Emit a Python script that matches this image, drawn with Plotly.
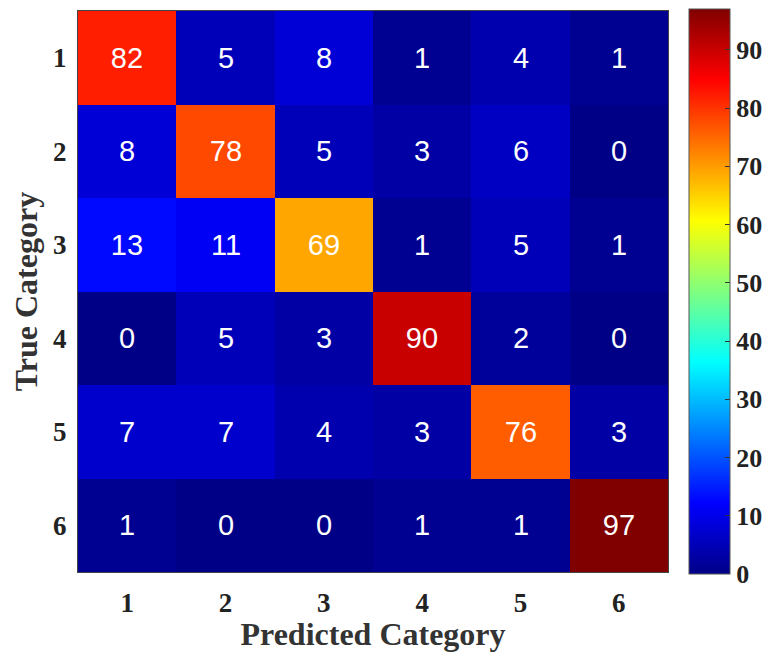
import plotly.graph_objects as go

categories = ["1", "2", "3", "4", "5", "6"]
values = [
    [82, 5, 8, 1, 4, 1],
    [8, 78, 5, 3, 6, 0],
    [13, 11, 69, 1, 5, 1],
    [0, 5, 3, 90, 2, 0],
    [7, 7, 4, 3, 76, 3],
    [1, 0, 0, 1, 1, 97],
]
cbar_ticks = [0, 10, 20, 30, 40, 50, 60, 70, 80, 90]

jet = [
    [0.0, "rgb(0,0,135)"],
    [0.125, "rgb(0,0,255)"],
    [0.375, "rgb(0,255,255)"],
    [0.625, "rgb(255,255,0)"],
    [0.875, "rgb(255,0,0)"],
    [1.0, "rgb(128,0,0)"],
]

serif = "Liberation Serif"
# page body has an 8px margin: figure origin sits at (8, 8) in the window
OFF = 8
W, H = 754, 644
L, R, T, B = 78 - OFF, 668 - OFF, 11 - OFF, 572 - OFF

fig = go.Figure(
    go.Heatmap(
        z=values,
        x=categories,
        y=categories,
        colorscale=jet,
        zmin=0,
        zmax=97,
        text=[[str(v) for v in row] for row in values],
        texttemplate="%{text}",
        textfont=dict(family="Liberation Sans", size=29, color="white"),
        xgap=0,
        ygap=0,
        colorbar=dict(
            x=(689 - OFF - L) / (R - L),
            xanchor="left",
            xpad=0,
            ypad=0,
            y=0.5,
            yanchor="middle",
            len=(576 - 11) / (572 - 11),
            lenmode="fraction",
            thickness=41,
            outlinewidth=1,
            outlinecolor="#555555",
            tickvals=cbar_ticks,
            ticks="inside",
            ticklen=5,
            tickcolor="#333333",
            tickfont=dict(family=serif, size=26, color="#222222", weight="bold"),
        ),
        hoverinfo="skip",
    )
)

fig.update_layout(
    width=W,
    height=H,
    margin=dict(l=L, r=W - R, t=T, b=H - B, autoexpand=False),
    paper_bgcolor="white",
    plot_bgcolor="white",
    font=dict(family=serif, color="#222222"),
    xaxis=dict(
        title=dict(text="<b>Predicted Category</b>", font=dict(family=serif, size=32, color="#333333"), standoff=14),
        tickfont=dict(family=serif, size=27, color="#222222", weight="bold"),
        showline=True, linecolor="#444444", linewidth=1, mirror=True,
        ticks="", ticklabelstandoff=7, showgrid=False, zeroline=False,
        automargin=True,
    ),
    yaxis=dict(
        title=dict(text="<b>True Category</b>", font=dict(family=serif, size=32, color="#333333"), standoff=13),
        tickfont=dict(family=serif, size=27, color="#222222", weight="bold"),
        showline=True, linecolor="#444444", linewidth=1, mirror=True,
        autorange="reversed",
        ticks="", ticklabelstandoff=5, showgrid=False, zeroline=False,
        automargin=True,
    ),
)

fig.write_html("out.html")
